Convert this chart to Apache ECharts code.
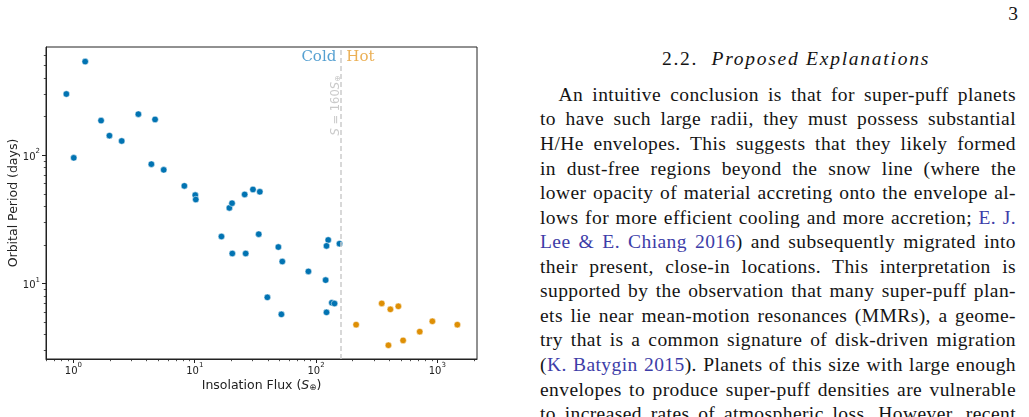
<!DOCTYPE html>
<html><head><meta charset="utf-8">
<script src="https://cdn.jsdelivr.net/npm/echarts@6/dist/echarts.min.js"></script>
<style>
html,body{margin:0;padding:0;background:#fff;width:1029px;height:417px;overflow:hidden;}
#chart{position:absolute;left:0;top:0;width:520px;height:417px;}
.ln{position:absolute;white-space:nowrap;font-family:"Liberation Serif","DejaVu Serif",serif;font-size:19.5px;line-height:24px;color:#141414;}
.cite{color:#3d3da8;}
</style></head><body>
<div id="chart"></div>
<div id="text"></div>
<script>
// ---- data ----
const coldFlux   = [1.25, 0.874, 1.69, 1.98, 2.50, 3.43, 4.71, 1.006, 4.39, 5.55, 8.21, 10.1, 10.2, 19.3, 20.3, 25.8, 30.2, 34.4, 16.6, 33.7, 20.4, 26.3, 48.9, 52.7, 86.5, 126, 122, 156, 120, 39.7, 51.8, 135, 142, 122];
const coldPeriod = [537, 300, 186, 142, 129, 209, 190, 95.3, 85.1, 76.8, 57.6, 48.8, 45.1, 38.8, 42.2, 49.4, 54.0, 51.8, 23.2, 24.2, 17.1, 17.1, 19.2, 14.8, 12.4, 21.8, 19.6, 20.4, 10.6, 7.78, 5.73, 7.06, 6.96, 5.94];
const hotFlux    = [214, 348, 410, 477, 395, 522, 716, 910, 1462];
const hotPeriod  = [4.76, 6.98, 6.27, 6.62, 3.29, 3.59, 4.20, 5.06, 4.76];
const thresholdFlux = 160;
const xMajorTicks = [1, 10, 100, 1000];
const xMinorTicks = [0.6, 0.7, 0.8, 0.9, 2, 3, 4, 5, 6, 7, 8, 9, 20, 30, 40, 50, 60, 70, 80, 90, 200, 300, 400, 500, 600, 700, 800, 900, 2000];
const yMajorTicks = [10, 100];
const yMinorTicks = [3, 4, 5, 6, 7, 8, 9, 20, 30, 40, 50, 60, 70, 80, 90, 200, 300, 400, 500, 600];
const xRange = [0.594, 2123];
const yRange = [2.57, 698];
const xTitle = 'Insolation Flux';
const yTitle = 'Orbital Period (days)';
const coldLabel = 'Cold', hotLabel = 'Hot';
const labelY = { coldHot: 580, threshold: 420 };

const BLUE = '#0173b2', ORANGE = '#de8f05';
const AX = '#222';
const SANS = 'DejaVu Sans';
const GRID = { left: 46, top: 47, width: 431, height: 312, containLabel: false, outerBoundsMode: 'none' };

// log10 scale handled by value axes in decade units
const L = Math.log10;
const zip = (a, b) => a.map((v, i) => [L(v), L(b[i])]);
const expFmt = v => '{b|10}{s|' + Math.round(v) + '}';
const tickRich = {
  b: { fontSize: 10, fontFamily: SANS, color: AX, lineHeight: 14, verticalAlign: 'bottom' },
  s: { fontSize: 7, fontFamily: SANS, color: AX, lineHeight: 9, verticalAlign: 'top' }
};

function majorAxis(range, ticks, extra) {
  return Object.assign({
    type: 'value', min: L(range[0]), max: L(range[1]), gridIndex: 0,
    axisLine: { show: true, onZero: false, lineStyle: { color: AX, width: 1 } },
    axisTick: { show: true, customValues: ticks.map(L), length: 4, lineStyle: { color: AX, width: 1 } },
    splitLine: { show: false }, nameMoveOverlap: false
  }, extra);
}
function minorAxis(range, ticks, pos) {
  return {
    type: 'value', min: L(range[0]), max: L(range[1]), gridIndex: 1, position: pos,
    axisLine: { show: false, onZero: false },
    axisTick: { show: true, customValues: ticks.map(L), length: 2.2, lineStyle: { color: AX, width: 0.8 } },
    axisLabel: { show: false }, splitLine: { show: false }
  };
}

const chart = echarts.init(document.getElementById('chart'), null, { renderer: 'canvas' });
chart.setOption({
  animation: false,
  grid: [
    Object.assign({ show: true, borderColor: AX, borderWidth: 1, backgroundColor: 'transparent' }, GRID),
    Object.assign({ show: false }, GRID)
  ],
  xAxis: [
    majorAxis(xRange, xMajorTicks, {
      position: 'bottom',
      axisLabel: { show: true, customValues: xMajorTicks.map(L), formatter: expFmt, rich: tickRich, margin: 3 },
      name: xTitle + ' ({i|S}{sub|⊕})', nameLocation: 'middle', nameGap: 20,
      nameTextStyle: { fontFamily: SANS, fontSize: 12.5, color: AX,
        rich: { i: { fontStyle: 'italic', fontFamily: SANS, fontSize: 12.5, color: AX },
                sub: { fontSize: 8.5, fontFamily: SANS, color: AX, verticalAlign: 'bottom', padding: [3, 0, 0, 0] } } }
    }),
    minorAxis(xRange, xMinorTicks, 'bottom')
  ],
  yAxis: [
    majorAxis(yRange, yMajorTicks, {
      position: 'left',
      axisLabel: { show: true, customValues: yMajorTicks.map(L), formatter: expFmt, rich: tickRich, margin: 6 },
      name: yTitle, nameLocation: 'middle', nameGap: 26, nameRotate: 90,
      nameTextStyle: { fontFamily: SANS, fontSize: 12.5, color: AX }
    }),
    minorAxis(yRange, yMinorTicks, 'left')
  ],
  series: [
    {
      type: 'scatter', name: 'Cold', xAxisIndex: 0, yAxisIndex: 0,
      data: zip(coldFlux, coldPeriod), symbolSize: 6.5,
      itemStyle: { color: BLUE, borderColor: '#fff', borderWidth: 0.5, opacity: 1 },
      markLine: {
        silent: true, symbol: 'none', animation: false,
        lineStyle: { type: [5, 3], color: '#cccccc', width: 1.5 },
        label: { show: false },
        data: [{ xAxis: L(thresholdFlux) }]
      }
    },
    {
      type: 'scatter', name: 'Hot', xAxisIndex: 0, yAxisIndex: 0,
      data: zip(hotFlux, hotPeriod), symbolSize: 6.5,
      itemStyle: { color: ORANGE, borderColor: '#fff', borderWidth: 0.5, opacity: 1 }
    },
    {
      type: 'scatter', name: 'labels', xAxisIndex: 0, yAxisIndex: 0, silent: true,
      symbolSize: 1, itemStyle: { color: 'rgba(0,0,0,0)' }, z: 5,
      data: [
        { value: [L(thresholdFlux), L(labelY.coldHot)],
          label: { show: true, position: 'left', distance: 4, formatter: coldLabel,
                   fontFamily: 'DejaVu Serif', fontSize: 15, color: '#2a88c6' } },
        { value: [L(thresholdFlux), L(labelY.coldHot)],
          label: { show: true, position: 'right', distance: 5, formatter: hotLabel,
                   fontFamily: 'DejaVu Serif', fontSize: 15, color: '#e69c2c' } },
        { value: [L(thresholdFlux), L(labelY.threshold)],
          label: { show: true, position: 'left', distance: 4, rotate: 90,
                   formatter: '{i|S} = 160{i|S}{sub|⊕}',
                   fontFamily: SANS, fontSize: 11.5, color: '#bdbdbd',
                   rich: { i: { fontStyle: 'italic', fontFamily: SANS, fontSize: 11.5, color: '#bdbdbd' },
                           sub: { fontSize: 8, fontFamily: SANS, color: '#bdbdbd', verticalAlign: 'bottom' } } } }
      ]
    }
  ]
});

// ---- page text ----
const FS = 19.5;
const pageNumber = '3';
const headingNum = '2.2.';
const headingTitle = 'Proposed Explanations';
const bodyLines = [
  [['An intuitive conclusion is that for super-puff planets', 0]],
  [['to have such large radii, they must possess substantial', 0]],
  [['H/He envelopes. This suggests that they likely formed', 0]],
  [['in dust-free regions beyond the snow line (where the', 0]],
  [['lower opacity of material accreting onto the envelope al-', 0]],
  [['lows for more efficient cooling and more accretion; ', 0], ['E. J.', 1]],
  [['Lee & E. Chiang 2016', 1], [') and subsequently migrated into', 0]],
  [['their present, close-in locations. This interpretation is', 0]],
  [['supported by the observation that many super-puff plan-', 0]],
  [['ets lie near mean-motion resonances (MMRs), a geome-', 0]],
  [['try that is a common signature of disk-driven migration', 0]],
  [['(', 0], ['K. Batygin 2015', 1], ['). Planets of this size with large enough', 0]],
  [['envelopes to produce super-puff densities are vulnerable', 0]],
  [['to increased rates of atmospheric loss. However, recent', 0]]
];
const textBox = document.getElementById('text');
const baseOff = (24 - 1.107 * FS) / 2 + 0.891 * FS;
function mk(html, left, baseline) {
  const d = document.createElement('div');
  d.className = 'ln';
  d.innerHTML = html;
  d.style.left = left + 'px';
  d.style.top = (baseline - baseOff) + 'px';
  textBox.appendChild(d);
  return d;
}
const esc = s => s.replace(/&/g, '&amp;').replace(/</g, '&lt;');
const colL = 540, colR = 1016;
const made = bodyLines.map((segs, k) => {
  const html = segs.map(([t, c]) => c ? '<span class="cite">' + esc(t) + '</span>' : esc(t)).join('');
  const left = k === 0 ? 558.5 : colL;
  const d = mk(html, left, 101.5 + 24.55 * k);
  const txt = segs.map(s => s[0]).join('');
  return { d, left, chars: txt.length, spaces: txt.split(' ').length - 1, w: d.getBoundingClientRect().width };
});
let ls = Infinity;
made.forEach(m => { ls = Math.min(ls, (colR - m.left - m.w - m.spaces * 1.0) / m.chars); });
ls = Math.max(0, ls);
made.forEach(m => {
  m.d.style.letterSpacing = ls + 'px';
  const w2 = m.d.getBoundingClientRect().width;
  m.d.style.wordSpacing = ((colR - m.left - w2) / m.spaces) + 'px';
});
const h = mk(esc(headingNum) + '&nbsp;&nbsp;<i>' + esc(headingTitle) + '</i>', 662, 66);
const hw = h.getBoundingClientRect().width;
h.style.letterSpacing = ((268 - hw) / (headingNum.length + headingTitle.length + 2)) + 'px';
const p = mk(pageNumber, 0, 21);
p.style.left = (1018 - p.getBoundingClientRect().width) + 'px';
</script>
</body></html>
